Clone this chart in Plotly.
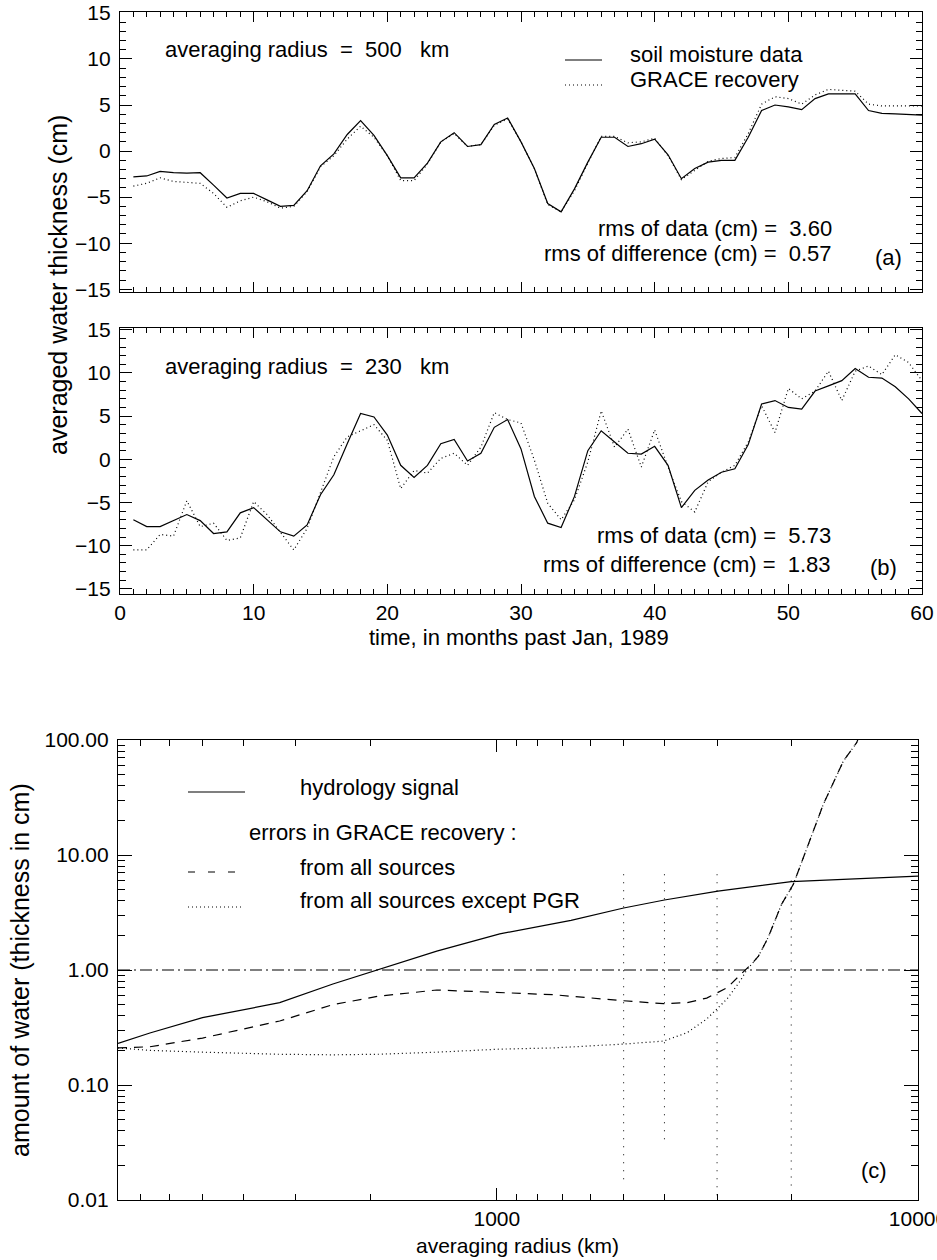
import math
import plotly.graph_objects as go

# ---------------- data ----------------
months = list(range(1, 61))

soil_500 = [-2.8, -2.7, -2.2, -2.35, -2.4, -2.35, -3.7, -5.1, -4.6, -4.6,
            -5.3, -6.0, -5.9, -4.3, -1.6, -0.3, 1.8, 3.3, 1.7, -0.5,
            -2.9, -2.9, -1.3, 1.0, 2.0, 0.5, 0.7, 2.9, 3.6, 1.0,
            -1.9, -5.7, -6.6, -4.1, -1.2, 1.5, 1.5, 0.5, 0.8, 1.3,
            -0.4, -3.0, -1.9, -1.2, -1.0, -1.0, 1.5, 4.4, 5.0, 4.8,
            4.5, 5.7, 6.2, 6.2, 6.2, 4.4, 4.1, 4.05, 4.0, 3.9]
grace_500 = [-3.8, -3.5, -2.9, -3.3, -3.4, -3.5, -4.6, -6.1, -5.4, -5.0,
             -5.5, -6.2, -6.0, -4.4, -1.7, -0.5, 1.3, 2.7, 1.5, -0.5,
             -3.2, -3.2, -1.4, 1.0, 1.9, 0.5, 0.7, 2.8, 3.5, 1.0,
             -1.9, -5.8, -6.6, -4.3, -1.3, 1.6, 1.6, 0.9, 1.0, 1.4,
             -0.5, -3.1, -2.1, -1.1, -0.8, -0.7, 1.9, 5.1, 5.9, 5.7,
             5.1, 6.1, 6.7, 6.6, 6.5, 5.1, 4.9, 4.9, 4.9, 4.9]
soil_230 = [-7.0, -7.8, -7.8, -7.1, -6.4, -7.1, -8.6, -8.4, -6.2, -5.6,
            -7.0, -8.4, -8.9, -7.6, -4.1, -1.8, 1.8, 5.3, 4.9, 2.8,
            -0.7, -2.1, -0.7, 1.8, 2.3, -0.2, 0.7, 3.7, 4.6, 1.2,
            -4.3, -7.4, -7.9, -4.3, 1.0, 3.3, 2.0, 0.7, 0.6, 1.5,
            -0.7, -5.6, -3.6, -2.4, -1.5, -1.1, 1.7, 6.4, 6.8, 6.0,
            5.8, 7.9, 8.5, 9.1, 10.5, 9.5, 9.4, 8.4, 7.0, 5.3]
grace_230 = [-10.5, -10.5, -8.7, -8.9, -4.8, -7.8, -7.4, -9.4, -9.1, -4.9,
             -6.4, -8.5, -10.5, -8.0, -3.8, 0.3, 2.6, 3.3, 4.0, 2.2,
             -3.4, -1.3, -1.6, 0.1, 0.7, -0.7, 1.4, 5.4, 4.6, 4.2,
             -0.1, -5.1, -7.0, -4.7, -0.3, 5.6, 1.4, 3.5, -0.9, 3.4,
             -0.9, -4.9, -6.1, -2.6, -1.5, -0.7, 2.0, 6.2, 3.1, 8.2,
             7.0, 7.9, 10.2, 6.8, 10.2, 10.8, 9.8, 12.1, 11.2, 9.1]

# panel (c): averaging radius (km) vs amount of water (cm)
radius_hydro = [126, 150, 200, 305, 408, 521, 720, 1016, 1500, 2000, 2500, 3350, 5000, 10000]
hydro_signal = [0.23, 0.283, 0.385, 0.52, 0.755, 1.0, 1.46, 2.06, 2.7, 3.46, 4.06, 4.86, 5.86, 6.56]

radius_all = [126, 150, 200, 305, 408, 521, 720, 1016, 1360, 2000, 2490, 2830, 3150,
              3520, 3846, 4054, 4180, 4405, 4743, 5058, 5960, 6650, 7150, 7400]
err_all = [0.21, 0.215, 0.256, 0.36, 0.50, 0.59, 0.67, 0.64, 0.61, 0.54, 0.51, 0.52, 0.57,
           0.70, 0.95, 1.16, 1.32, 1.91, 3.73, 5.56, 27.6, 65.6, 94.8, 130]

radius_nopgr = [126, 150, 200, 305, 408, 521, 720, 1016, 1360, 2000, 2490, 2830, 3150,
                3520, 3780, 3920, 4180, 4405, 4743, 5058, 5960, 6650, 7150, 7400]
err_nopgr = [0.21, 0.20, 0.193, 0.185, 0.183, 0.185, 0.193, 0.205, 0.21, 0.227, 0.241, 0.285, 0.375,
             0.56, 0.80, 1.0, 1.32, 1.91, 3.73, 5.56, 27.6, 65.6, 94.8, 130]

unity_radius = [126, 10000]
unity_level = [1.0, 1.0]

marker_radius = [2000, 2500, 3333, 5000]
marker_top = [6.8, 6.8, 6.8, 6.0]
marker_bottom = [0.0145, 0.031, 0.01, 0.0125]

ab_ytick = [-15, -10, -5, 0, 5, 10, 15]
ab_xtick = [0, 10, 20, 30, 40, 50, 60]
c_ytick = [0.01, 0.1, 1, 10, 100]
c_ytext = ["0.01", "0.10", "1.00", "10.00", "100.00"]
c_xtick = [1000, 10000]
c_xtext = ["1000", "10000"]

# ---------------- layout helpers ----------------
W, H = 937, 1260
FONT = "Liberation Sans, Arial, Helvetica, sans-serif"


def fx(px):
    return px / W


def fy(py):
    return 1 - py / H


BLACK = "black"
DOT = "1px,3px"

fig = go.Figure()

# panel (a)
fig.add_trace(go.Scatter(x=months, y=soil_500, mode="lines", line=dict(color=BLACK, width=1.2),
                         xaxis="x", yaxis="y", showlegend=False))
fig.add_trace(go.Scatter(x=months, y=grace_500, mode="lines", line=dict(color=BLACK, width=1.2, dash=DOT),
                         xaxis="x", yaxis="y", showlegend=False))
# panel (b)
fig.add_trace(go.Scatter(x=months, y=soil_230, mode="lines", line=dict(color=BLACK, width=1.2),
                         xaxis="x2", yaxis="y2", showlegend=False))
fig.add_trace(go.Scatter(x=months, y=grace_230, mode="lines", line=dict(color=BLACK, width=1.2, dash=DOT),
                         xaxis="x2", yaxis="y2", showlegend=False))
# panel (c)
fig.add_trace(go.Scatter(x=unity_radius, y=unity_level, mode="lines",
                         line=dict(color=BLACK, width=1.2, dash="12px,4px,2px,4px"),
                         xaxis="x3", yaxis="y3", showlegend=False))
for r, t, b in zip(marker_radius, marker_top, marker_bottom):
    fig.add_trace(go.Scatter(x=[r, r], y=[t, b], mode="lines",
                             line=dict(color=BLACK, width=1, dash="1px,7px"),
                             xaxis="x3", yaxis="y3", showlegend=False))
fig.add_trace(go.Scatter(x=radius_hydro, y=hydro_signal, mode="lines", line=dict(color=BLACK, width=1.2),
                         xaxis="x3", yaxis="y3", showlegend=False))
fig.add_trace(go.Scatter(x=radius_nopgr, y=err_nopgr, mode="lines", line=dict(color=BLACK, width=1.2, dash=DOT),
                         xaxis="x3", yaxis="y3", showlegend=False))
fig.add_trace(go.Scatter(x=radius_all, y=err_all, mode="lines", line=dict(color=BLACK, width=1.2, dash="9px,7px"),
                         xaxis="x3", yaxis="y3", showlegend=False))

tickfont = dict(family=FONT, size=21, color=BLACK)
common = dict(showline=True, linecolor=BLACK, linewidth=1.2, mirror="allticks", ticks="inside",
              tickcolor=BLACK, tickwidth=1, showgrid=False, zeroline=False, tickfont=tickfont,
              automargin=False)

minor_lin_x = dict(ticks="inside", ticklen=5, tickcolor=BLACK, tickwidth=1, dtick=1, tick0=0, showgrid=False)
minor_lin_y = dict(ticks="inside", ticklen=6, tickcolor=BLACK, tickwidth=1, dtick=1, tick0=0, showgrid=False)

c_minor_x = [1000 / n for n in range(2, 8)] + [10000 / n for n in range(2, 10)]
c_minor_y = [k * 10 ** e for e in range(-2, 2) for k in range(2, 10)]

fig.update_layout(
    width=W, height=H, margin=dict(l=0, r=0, t=0, b=0, autoexpand=False),
    paper_bgcolor="white", plot_bgcolor="white",
    font=dict(family=FONT, size=22, color=BLACK),
    xaxis=dict(domain=[fx(120), fx(922)], range=[0, 60], anchor="y", tickmode="array", tickvals=ab_xtick,
               ticklen=10, showticklabels=False, minor=minor_lin_x, **common),
    yaxis=dict(domain=[fy(292), fy(12)], range=[-15.3, 15.1], anchor="x", tickmode="array", tickvals=ab_ytick,
               ticklen=12, ticklabelstandoff=4, minor=minor_lin_y, **common),
    xaxis2=dict(domain=[fx(120), fx(922)], range=[0, 60], anchor="y2", tickmode="array", tickvals=ab_xtick,
                ticklen=10, minor=minor_lin_x, ticklabeloverflow="allow", **common),
    yaxis2=dict(domain=[fy(594), fy(328)], range=[-15.6, 15.2], anchor="x2", tickmode="array", tickvals=ab_ytick,
                ticklen=12, ticklabelstandoff=4, minor=minor_lin_y, **common),
    xaxis3=dict(domain=[fx(118), fx(918)], type="log", range=[math.log10(126), 4], anchor="y3",
                tickmode="array", tickvals=c_xtick, ticktext=c_xtext, ticklen=12, ticklabeloverflow="allow",
                minor=dict(ticks="inside", ticklen=6, tickcolor=BLACK, tickwidth=1, tickmode="array",
                           tickvals=c_minor_x, showgrid=False),
                **common),
    yaxis3=dict(domain=[fy(1200), fy(740)], type="log", range=[-2, 2], anchor="x3",
                tickmode="array", tickvals=c_ytick, ticktext=c_ytext, ticklen=14, ticklabelstandoff=4,
                minor=dict(ticks="inside", ticklen=7, tickcolor=BLACK, tickwidth=1, tickmode="array",
                           tickvals=c_minor_y, showgrid=False),
                **common),
)

NB = "\u00a0"
annotations = []


def text(px, py, s, anchor="left", size=22, angle=0):
    annotations.append(dict(x=fx(px), y=fy(py), xref="paper", yref="paper", text=s, showarrow=False,
                            xanchor=anchor, yanchor="middle", textangle=angle,
                            font=dict(family=FONT, size=size, color=BLACK)))


# panel (a) texts
text(163, 50, "averaging radius" + NB * 2 + "=" + NB * 2 + "500" + NB * 3 + "km")
text(628, 55, "soil moisture data")
text(628, 79, "GRACE recovery")
text(834, 228, "rms of data (cm) =" + NB * 2 + "3.60", anchor="right")
text(834, 254, "rms of difference (cm) =" + NB * 2 + "0.57", anchor="right")
text(888, 258, "(a)", anchor="center")
# panel (b) texts
text(163, 366, "averaging radius" + NB * 2 + "=" + NB * 2 + "230" + NB * 3 + "km")
text(833, 535, "rms of data (cm) =" + NB * 2 + "5.73", anchor="right")
text(833, 564, "rms of difference (cm) =" + NB * 2 + "1.83", anchor="right")
text(883, 568, "(b)", anchor="center")
text(519, 637, "time, in months past Jan, 1989", anchor="center")
text(58, 285, "averaged water thickness (cm)", anchor="center", size=25, angle=-90)
# panel (c) texts
text(298, 787, "hydrology signal")
text(247, 832, "errors in GRACE recovery :")
text(298, 867, "from all sources")
text(298, 900, "from all sources except PGR")
text(874, 1170, "(c)", anchor="center")
text(517, 1245, "averaging radius (km)", anchor="center", size=21)
text(20, 970, "amount of water (thickness in cm)", anchor="center", size=25, angle=-90)

fig.update_layout(annotations=annotations)

# legend samples (paper-space line segments)
shapes = []


def seg(x0, x1, py, dash):
    shapes.append(dict(type="line", xref="paper", yref="paper", x0=fx(x0), x1=fx(x1), y0=fy(py), y1=fy(py),
                       line=dict(color=BLACK, width=1.2, dash=dash)))


seg(565, 602, 60, "solid")
seg(565, 602, 85, DOT)
seg(188, 245, 792, "solid")
seg(188, 240, 872, "7px,13px")
seg(188, 242, 907, DOT)
fig.update_layout(shapes=shapes)

fig.write_html(
    "out.html",
    config={"displayModeBar": False},
    post_script="document.body.style.margin='0px';"
                "document.documentElement.style.overflow='hidden';"
                "document.body.style.overflow='hidden';",
)
